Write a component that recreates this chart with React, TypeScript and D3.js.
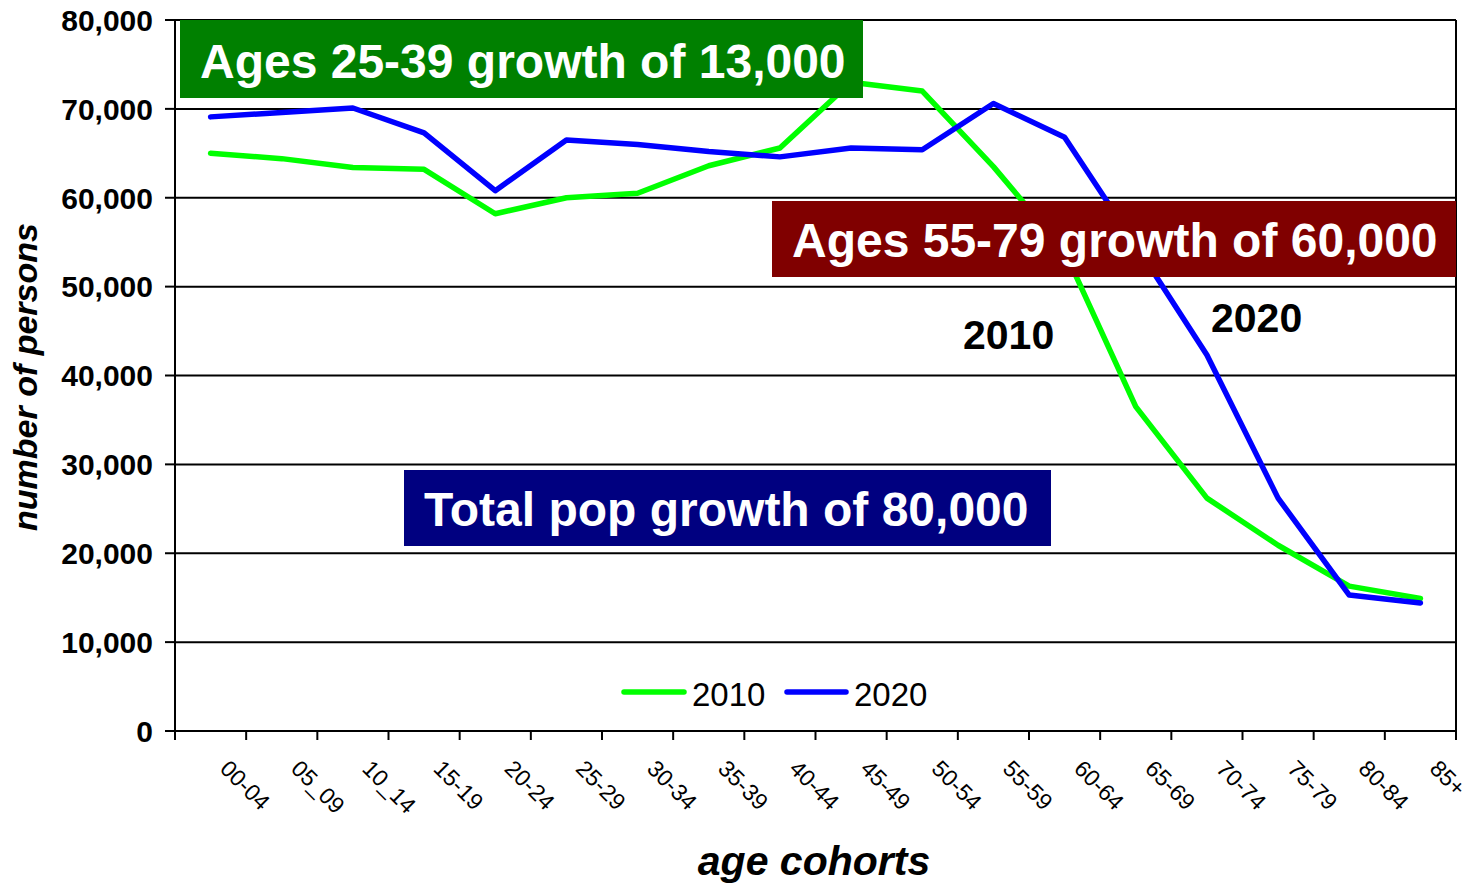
import React from "react";
import * as d3 from "d3";

const categories = [
  "00-04", "05_09", "10_14", "15-19", "20-24", "25-29", "30-34", "35-39", "40-44",
  "45-49", "50-54", "55-59", "60-64", "65-69", "70-74", "75-79", "80-84", "85+",
];
const pop2010 = [
  65000, 64400, 63400, 63200, 58200, 60000, 60500, 63600, 65600,
  73000, 72000, 63500, 54000, 36500, 26200, 20900, 16300, 14900,
];
const pop2020 = [
  69100, 69600, 70100, 67300, 60800, 66500, 66000, 65200, 64600,
  65600, 65400, 70600, 66800, 54700, 42300, 26200, 15300, 14400,
];
const yTicks = [0, 10000, 20000, 30000, 40000, 50000, 60000, 70000, 80000];

const WIDTH = 1474;
const HEIGHT = 885;
const LEFT = 175;
const RIGHT = 1456;
const TOP = 20;
const BOTTOM = 731;
const FONT = "'Liberation Sans', Arial, sans-serif";

export default function App() {
  const x = d3.scaleBand<string>().domain(categories).range([LEFT, RIGHT]).padding(0);
  const y = d3.scaleLinear().domain([0, 80000]).range([BOTTOM, TOP]);
  const cx = (c: string) => (x(c) ?? 0) + x.bandwidth() / 2;
  const fmt = d3.format(",");

  const line = d3
    .line<number>()
    .x((_, i) => cx(categories[i]))
    .y((d) => y(d));

  const boundaries = [...categories.map((c) => x(c) ?? 0), RIGHT];

  const series = [
    { name: "2010", values: pop2010, color: "#00ff00" },
    { name: "2020", values: pop2020, color: "#0000ff" },
  ];

  // annotation boxes (pixel layout copied from the chart)
  const boxes = [
    { text: "Ages 25-39 growth of 13,000", fill: "#008000", x0: 180, x1: 863, y0: 20, y1: 98 },
    { text: "Ages 55-79 growth of 60,000", fill: "#800000", x0: 772, x1: 1456, y0: 201, y1: 277 },
    { text: "Total pop growth of 80,000", fill: "#000080", x0: 404, x1: 1051, y0: 470, y1: 546 },
  ];

  return (
    <svg
      width={WIDTH}
      height={HEIGHT}
      style={{ position: "absolute", left: 0, top: 0, background: "#fff" }}
      fontFamily={FONT}
    >
      {/* gridlines */}
      {yTicks.map((t) => (
        <line key={t} x1={LEFT} x2={RIGHT} y1={y(t)} y2={y(t)} stroke="#000" strokeWidth={2} />
      ))}
      <line x1={RIGHT} x2={RIGHT} y1={TOP} y2={BOTTOM} stroke="#000" strokeWidth={2} />

      {/* y axis */}
      <line x1={LEFT} x2={LEFT} y1={TOP} y2={BOTTOM} stroke="#000" strokeWidth={2} />
      {yTicks.map((t) => (
        <g key={t}>
          <line x1={LEFT - 10} x2={LEFT} y1={y(t)} y2={y(t)} stroke="#000" strokeWidth={2} />
          <text
            x={153}
            y={y(t)}
            dy="0.36em"
            textAnchor="end"
            fontSize={30}
            fontWeight="bold"
          >
            {fmt(t)}
          </text>
        </g>
      ))}

      {/* x axis */}
      {boundaries.map((b, i) => (
        <line key={i} x1={b} x2={b} y1={BOTTOM} y2={BOTTOM + 9} stroke="#000" strokeWidth={2} />
      ))}
      {categories.map((c) => (
        <text
          key={c}
          transform={`translate(${cx(c) + 20},${BOTTOM + 27}) rotate(45)`}
          dominantBaseline="hanging"
          fontSize={23}
        >
          {c}
        </text>
      ))}

      {/* series */}
      {series.map((s) => (
        <path
          key={s.name}
          d={line(s.values) ?? ""}
          fill="none"
          stroke={s.color}
          strokeWidth={5.5}
          strokeLinejoin="round"
          strokeLinecap="round"
        />
      ))}

      {/* legend */}
      <line x1={624} x2={684} y1={692} y2={692} stroke="#00ff00" strokeWidth={5.5} strokeLinecap="round" />
      <text x={692} y={706} fontSize={33}>2010</text>
      <line x1={787} x2={846} y1={692} y2={692} stroke="#0000ff" strokeWidth={5.5} strokeLinecap="round" />
      <text x={854} y={706} fontSize={33}>2020</text>

      {/* annotation boxes */}
      {boxes.map((b) => (
        <g key={b.text}>
          <rect x={b.x0} y={b.y0} width={b.x1 - b.x0} height={b.y1 - b.y0} fill={b.fill} />
          <text
            x={b.x0 + 20}
            y={b.y1 - 20}
            fontSize={48}
            fontWeight="bold"
            fill="#fff"
          >
            {b.text}
          </text>
        </g>
      ))}

      <text x={963} y={349} fontSize={41} fontWeight="bold">2010</text>
      <text x={1211} y={332} fontSize={41} fontWeight="bold">2020</text>

      {/* axis titles */}
      <text
        x={814}
        y={875}
        textAnchor="middle"
        fontSize={41}
        fontWeight="bold"
        fontStyle="italic"
      >
        age cohorts
      </text>
      <text
        transform={`translate(37,377) rotate(-90)`}
        textAnchor="middle"
        fontSize={34}
        fontWeight="bold"
        fontStyle="italic"
      >
        number of persons
      </text>
    </svg>
  );
}
